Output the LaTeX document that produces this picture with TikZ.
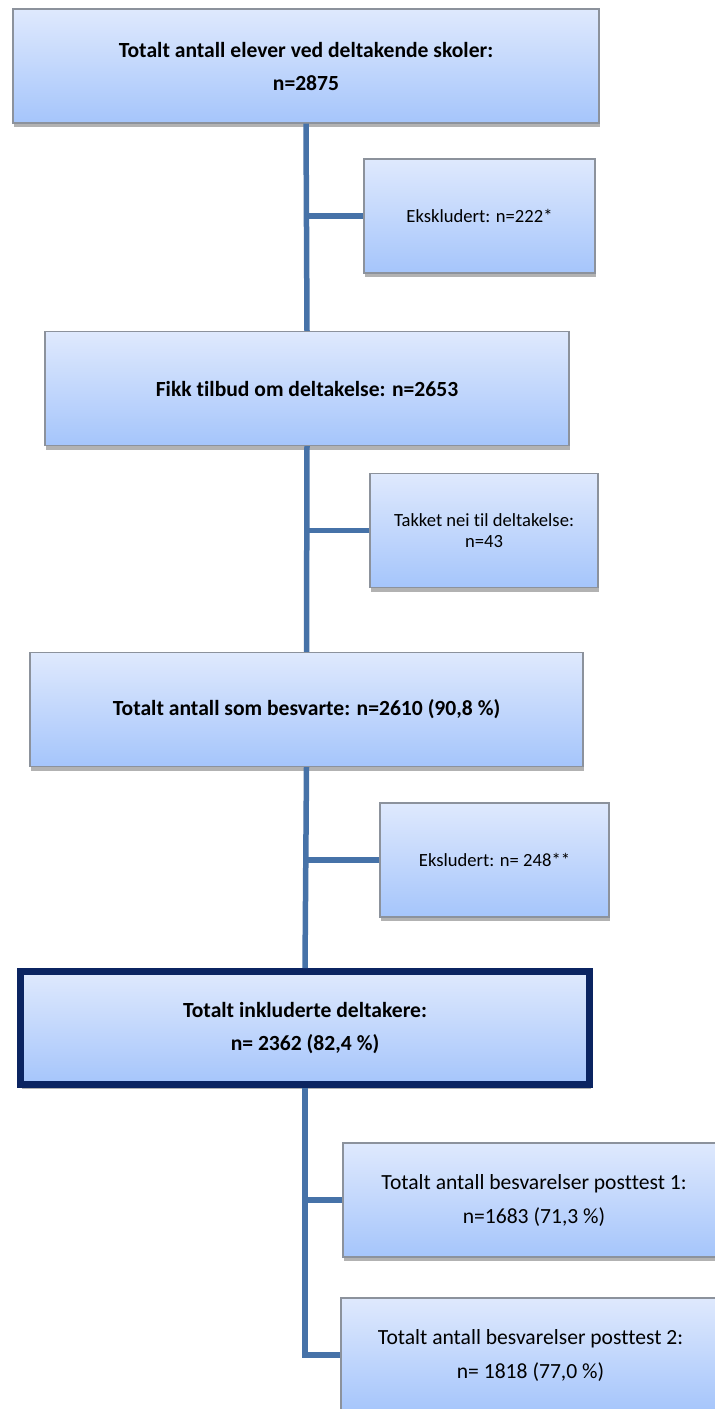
\documentclass[tikz,border=0pt]{standalone}
\usepackage{fontspec}
\setmainfont{Carlito}[Ligatures={NoCommon}]
\usetikzlibrary{shadows}
\definecolor{boxtop}{HTML}{DFE9FD}
\definecolor{boxbot}{HTML}{A5C5FB}
\definecolor{boxline}{HTML}{8C929C}
\definecolor{linkblue}{HTML}{4672A8}
\definecolor{navy}{HTML}{0B2461}
\tikzset{
  box/.style={draw=boxline, line width=1.2pt, top color=boxtop, bottom color=boxbot,
    minimum height=114pt, align=center, inner sep=0pt,
    drop shadow={shadow xshift=1pt, shadow yshift=-4pt, fill=black, opacity=0.3}},
  mainbox/.style={box, font=\fontsize{21.6}{33}\selectfont\bfseries},
  sidebox/.style={box, font=\fontsize{18.6}{21}\selectfont},
  postbox/.style={box, font=\fontsize{21.6}{34}\selectfont},
  keybox/.style={mainbox, draw=navy, line width=7pt},
  link/.style={draw=linkblue, line width=5.5pt}
}
\begin{document}
\begin{tikzpicture}[x=1pt,y=-1pt]
\clip (0,0) rectangle (715,1409);
\node[mainbox, minimum width=586pt] (total) at (306,66) {Totalt antall elever ved deltakende skoler:\\n=2875};
\node[sidebox, minimum width=231pt] (excl1) at (479.5,216) {Ekskludert: n=222*};
\node[mainbox, minimum width=524pt] (offer) at (307,388.5) {Fikk tilbud om deltakelse: n=2653};
\node[sidebox, minimum width=228pt] (decl) at (484,530.5) {Takket nei til deltakelse:\\n=43};
\node[mainbox, minimum width=553pt] (answ) at (306.5,709.5) {Totalt antall som besvarte: n=2610 (90,8 \%)};
\node[sidebox, minimum width=229pt] (excl2) at (494.5,860) {Eksludert: n= 248**};
\node[keybox, minimum width=569pt, minimum height=113pt] (incl) at (305,1028) {Totalt inkluderte deltakere:\\n= 2362 (82,4 \%)};
\node[postbox, minimum width=382pt] (post1) at (534,1200) {Totalt antall besvarelser posttest 1:\\n=1683 (71,3 \%)};
\node[postbox, minimum width=379pt] (post2) at (530.5,1355) {Totalt antall besvarelser posttest 2:\\n= 1818 (77,0 \%)};

% trunk
\draw[link] (total.south) -- (offer.north);
\draw[link] (offer.south) -- (answ.north);
\draw[link] (answ.south) -- (incl.north);
\draw[link] (incl.south) |- (post2.west);
% side branches
\draw[link] (excl1.west) -- (excl1.west -| total.south);
\draw[link] (decl.west) -- (decl.west -| offer.south);
\draw[link] (excl2.west) -- (excl2.west -| answ.south);
\draw[link] (post1.west) -- (post1.west -| incl.south);
\end{tikzpicture}
\end{document}
